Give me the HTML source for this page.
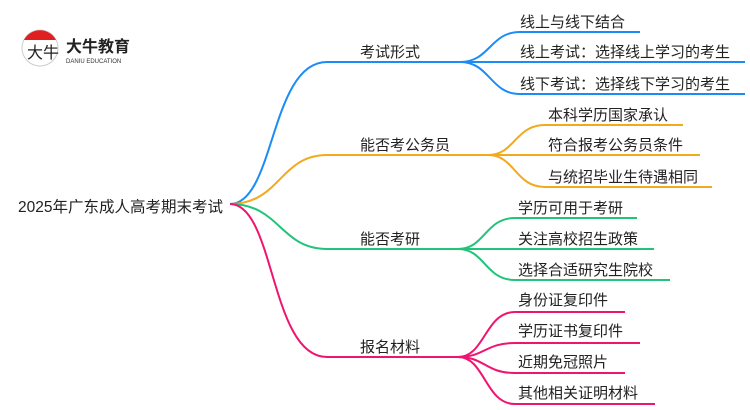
<!DOCTYPE html>
<html><head><meta charset="utf-8"><style>
body{margin:0;background:#fff;width:750px;height:410px;overflow:hidden}
svg{display:block}
text{font-family:"Liberation Sans","Noto Sans CJK SC",sans-serif;font-size:15px;fill:#222}
</style></head><body>
<svg width="750" height="410" viewBox="0 0 750 410">
<g fill="none" stroke-width="2">
<g stroke="#1b8cf5">
<path d="M230 204 C275 204 270 62 327 62 L460 62"/>
<path d="M460 62 C490 62 490 32 520 32 L640 32"/>
<path d="M460 62 L745 62"/>
<path d="M460 62 C490 62 490 94 520 94 L745 94"/>
</g>
<g stroke="#f2a91d">
<path d="M230 204 C280 204 280 155 327 155 L488 155"/>
<path d="M488 155 C515 155 515 125 545 125 L683 125"/>
<path d="M488 155 L700 155"/>
<path d="M488 155 C515 155 515 187 545 187 L712 187"/>
</g>
<g stroke="#20c47a">
<path d="M230 204 C280 204 280 249 327 249 L458 249"/>
<path d="M458 249 C485 249 485 218 515 218 L637 218"/>
<path d="M458 249 L654 249"/>
<path d="M458 249 C485 249 485 280 515 280 L670 280"/>
</g>
<g stroke="#ef1470">
<path d="M230 204 C275 204 270 357 327 357 L458 357"/>
<path d="M458 357 C485 357 485 312 515 312 L625 312"/>
<path d="M458 357 C485 357 485 343 515 343 L640 343"/>
<path d="M458 357 C485 357 485 373 515 373 L625 373"/>
<path d="M458 357 C485 357 485 404 515 404 L655 404"/>
</g>
</g>
<!-- logo -->
<circle cx="40" cy="48" r="18" fill="#fff" stroke="#ccc" stroke-width="1"/>
<path d="M24 40 A18 18 0 0 1 56 40 Z" fill="#e02020"/>
<text x="27" y="58" style="font-size:16px;fill:#222">大牛</text>
<text x="66" y="52" style="font-size:16px;font-weight:bold;fill:#222">大牛教育</text>
<text x="66" y="63" style="font-size:6px;fill:#333">DANIU EDUCATION</text>

<text x="18" y="212" style="font-size:15.5px">2025年广东成人高考期末考试</text>
<text x="360" y="57">考试形式</text>
<text x="360" y="150">能否考公务员</text>
<text x="360" y="244">能否考研</text>
<text x="360" y="352">报名材料</text>

<text x="520" y="27">线上与线下结合</text>
<text x="520" y="57">线上考试：选择线上学习的考生</text>
<text x="520" y="89">线下考试：选择线下学习的考生</text>

<text x="548" y="120">本科学历国家承认</text>
<text x="548" y="150">符合报考公务员条件</text>
<text x="548" y="182">与统招毕业生待遇相同</text>

<text x="518" y="213">学历可用于考研</text>
<text x="518" y="244">关注高校招生政策</text>
<text x="518" y="275">选择合适研究生院校</text>

<text x="518" y="305">身份证复印件</text>
<text x="518" y="336">学历证书复印件</text>
<text x="518" y="367">近期免冠照片</text>
<text x="518" y="398">其他相关证明材料</text>
</svg>
</body></html>
